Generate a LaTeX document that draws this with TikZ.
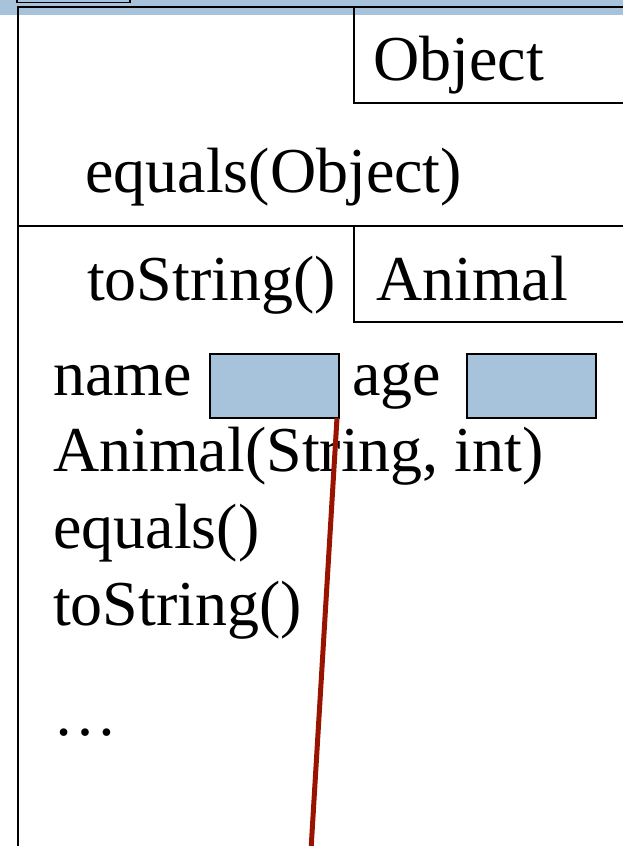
\documentclass[tikz,border=0pt]{standalone}
\usepackage{fontspec}
\setmainfont{Liberation Serif}
\definecolor{slotblue}{HTML}{A6C3DB}
\definecolor{refred}{HTML}{981400}
\begin{document}
\begin{tikzpicture}[x=1pt,y=-1pt,
  label/.style={anchor=base west,inner sep=0pt,font=\fontsize{64}{76}\selectfont},
  frame/.style={draw=black,line width=2pt},
  slot/.style={draw=black,line width=2pt,fill=slotblue,anchor=north west,
    minimum width=129pt,minimum height=64pt,inner sep=0pt},
  ref/.style={draw=refred,line width=5pt}]
\clip (0,0) rectangle (623,846);
% header band
\fill[slotblue] (0,-5) rectangle (623,15);
\draw[frame,line width=1.6pt] (17,-10) rectangle (130,2.5);
% outer frame and compartments
\draw[frame] (18,850) -- (18,7) -- (640,7);
\draw[frame] (354,7) -- (354,103) -- (640,103);
\draw[frame] (18,226) -- (640,226);
\draw[frame] (354,226) -- (354,322) -- (640,322);
% texts
\node[label] (obj) at (373,80) {Object};
\node[label] (eqobj) at (85,192) {equals(Object)};
\node[label] (tostr1) at (87,300) {toString()};
\node[label] (animal) at (376,300) {Animal};
\node[label] (name) at (53,395) {name};
\node[slot] (nameval) at (209,353) {};
\node[label] (age) at (352,395) {age};
\node[slot] (ageval) at (466,353) {};
\node[label] (ctor) at (53,471) {Animal(String, int)};
\node[label] (eq) at (53,548) {equals()};
\node[label] (tostr2) at (53,625) {toString()};
\node[label] (dots) at (53,735) {…};
% reference arrow leaving the name slot
\coordinate (tail) at (311,850);
\draw[ref] ([xshift=-3pt,yshift=1pt]nameval.south east) -- (tail);
\end{tikzpicture}
\end{document}
